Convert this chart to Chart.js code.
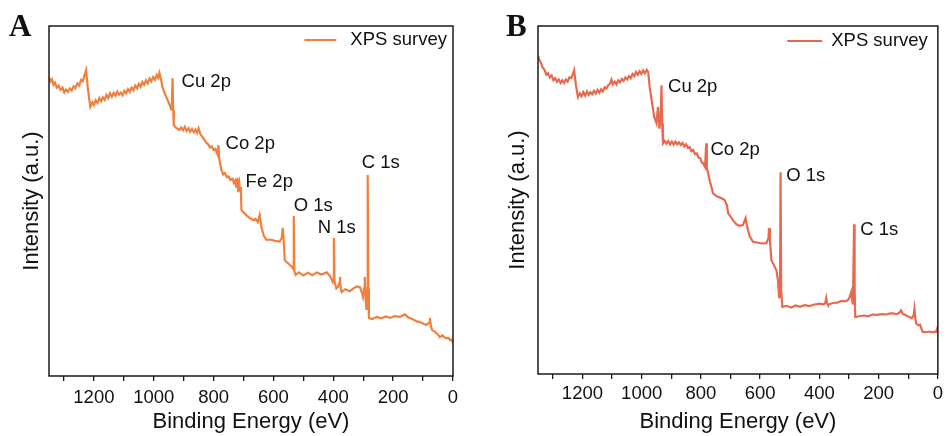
<!DOCTYPE html>
<html>
<head>
<meta charset="utf-8">
<script src="https://cdn.jsdelivr.net/npm/chart.js@4.4.1/dist/chart.umd.min.js"></script>
<style>
  body { margin: 0; background: #fff; }
  .panel { position: absolute; top: 0; }
  .tag { position: absolute; top: 8px; font: bold 31px "Liberation Serif", "Times New Roman", serif; color: #111; }
</style>
</head>
<body>
<div class="panel" style="left:0"><canvas id="chartA" width="470" height="436"></canvas></div>
<div class="panel" style="left:477px"><canvas id="chartB" width="470" height="436"></canvas></div>
<div class="tag" style="left:9px">A</div>
<div class="tag" style="left:506px">B</div>
<script>
// binding energy (eV) and intensity (a.u., 0-100 of the plot height) for each survey
const energyA = [1350, 1345, 1340, 1335, 1330, 1324, 1318, 1312, 1305, 1299, 1293, 1287, 1280, 1274, 1268, 1262, 1255, 1249, 1243, 1237, 1232, 1226,
  1220, 1212, 1205, 1200, 1194, 1188, 1182, 1176, 1170, 1164, 1158, 1152, 1146, 1140, 1134, 1128, 1122, 1116, 1110, 1104,
  1098, 1092, 1086, 1080, 1074, 1068, 1062, 1056, 1050, 1044, 1038, 1032, 1026, 1020, 1014, 1008, 1002, 996, 990, 985, 981,
  975, 971, 962, 954, 947, 942, 939, 937, 935, 933, 925,
  914, 908, 902, 896, 890, 884, 878, 872, 866, 860, 855, 850, 845, 840, 835, 830, 824, 818, 812, 806, 800, 794, 790,
  786, 784, 781, 774, 768, 762, 756, 750, 744, 737, 732, 728, 724, 722, 720, 718, 714, 711, 709, 707,
  700, 690, 680, 669, 660, 652, 646, 640, 632, 623, 610, 595, 579, 572, 569, 566,
  562, 555, 545, 538, 534, 532, 530, 526, 515, 500, 485, 470, 455, 440, 422, 410, 402, 400, 398, 396,
  390, 385, 380, 378, 375, 372, 360, 345, 330, 320, 311, 305, 301, 297, 295, 292, 289, 287, 285, 283,
  281, 270, 255, 240, 225, 210, 195, 177, 161, 150, 135, 120, 111, 100, 90, 80, 77, 74, 70, 60,
  50, 44, 35, 25, 15, 10, 5, 0];
const intensityA = [85.4, 84.2, 84.8, 83.2, 83.8, 82.4, 83.0, 81.8, 82.4, 81.0, 81.8, 81.2, 82.2, 81.6, 82.8, 82.2, 83.6, 83.0, 84.6, 84.2, 85.8, 87.4,
  82.0, 76.9, 78.2, 77.4, 78.8, 78.0, 79.4, 78.5, 79.6, 78.9, 80.3, 79.4, 80.8, 79.8, 80.9, 80.1, 81.3, 80.4, 81.0, 80.2,
  81.5, 80.8, 82.0, 81.2, 82.4, 81.6, 83.0, 82.2, 83.5, 82.6, 84.0, 83.2, 84.5, 83.6, 85.0, 84.2, 85.4, 84.6, 86.0, 85.2, 86.6,
  84.5, 82.6, 80.5, 78.9, 77.5, 76.2, 80.0, 85.1, 76.0, 71.7, 70.9,
  70.3, 71.0, 70.2, 71.2, 70.0, 70.8, 69.8, 70.6, 69.6, 70.4, 69.5, 70.8, 69.3, 68.6, 68.0, 67.4, 66.6, 66.2, 65.3, 65.6, 64.6, 64.9, 64.0,
  63.2, 66.0, 62.0, 58.9, 57.6, 58.0, 56.8, 57.0, 56.0, 56.4, 55.2, 55.8, 54.0, 55.5, 56.6, 52.5, 55.0, 53.0, 54.0, 47.4,
  46.8, 45.9, 45.2, 44.6, 44.9, 44.0, 46.0, 42.5, 40.0, 38.9, 39.0, 38.6, 38.4, 39.5, 42.3, 39.0,
  33.0, 32.5, 31.7, 31.2, 30.5, 45.7, 30.0, 28.9, 29.6, 28.7, 29.5, 28.8, 29.6, 29.0, 29.6, 28.5, 26.9, 27.5, 39.4, 27.0,
  25.0, 25.4, 26.5, 28.3, 25.0, 24.0, 24.8, 24.2, 25.2, 25.6, 25.4, 24.0, 22.6, 25.0, 28.3, 22.0, 18.9, 25.0, 57.4, 25.0,
  16.6, 16.3, 16.9, 16.5, 17.0, 16.6, 17.1, 16.9, 17.6, 16.8, 16.2, 15.6, 15.4, 15.0, 14.6, 15.2, 16.6, 14.4, 13.1, 12.6,
  11.8, 11.1, 11.6, 10.8, 10.9, 10.3, 10.4, 9.4];

const energyB = [1350, 1345, 1340, 1334, 1328, 1322, 1316, 1310, 1304, 1298, 1292, 1286, 1280, 1274, 1268, 1262, 1256, 1250, 1244, 1238, 1233, 1228,
  1222, 1215, 1209, 1203, 1197, 1191, 1185, 1179, 1173, 1167, 1161, 1155, 1149, 1143, 1137, 1131, 1125, 1119, 1113, 1107, 1102,
  1097, 1091, 1085, 1079, 1073, 1067, 1061, 1055, 1049, 1043, 1037, 1031, 1025, 1019, 1013, 1007, 1001, 995, 989, 983, 978,
  973, 965, 958, 950, 945, 940, 936, 933, 931,
  928, 922, 916, 910, 904, 898, 892, 886, 880, 874, 868, 862, 856, 850, 844, 838, 832, 826, 820, 814, 808, 802, 797, 793,
  786, 782, 780, 778, 770, 759, 745, 730, 720, 712, 708, 703, 690, 680, 670, 658, 649, 643, 635, 624,
  610, 595, 579, 572, 570, 567, 562, 555, 545, 540, 536, 533, 531, 529, 525, 510, 495, 480, 465, 450,
  433, 420, 400, 385, 380, 377, 374, 371, 355, 340, 325, 315, 304, 298, 292, 289, 287, 285, 283, 281,
  279, 265, 250, 235, 220, 205, 190, 175, 160, 152, 140, 130, 124, 118, 110, 103, 96, 88, 82, 79,
  76, 73, 66, 60, 56, 51, 40, 30, 20, 10, 6, 2, 0];
const intensityB = [91.5, 90.2, 89.4, 88.0, 87.4, 86.0, 86.4, 85.2, 85.8, 84.4, 85.0, 84.0, 84.6, 83.6, 84.4, 83.6, 84.6, 84.0, 85.2, 85.0, 86.0, 87.3,
  83.0, 79.6, 80.6, 79.8, 81.0, 80.0, 81.2, 80.2, 81.0, 80.4, 81.4, 80.6, 81.6, 80.8, 81.8, 81.2, 82.4, 82.0, 83.0, 83.4, 84.6,
  83.2, 84.0, 83.2, 84.4, 83.8, 84.8, 84.2, 85.2, 84.6, 85.6, 85.0, 86.2, 85.6, 86.8, 86.0, 87.0, 86.2, 87.2, 86.4, 87.4, 86.8,
  82.5, 78.0, 74.0, 72.1, 76.7, 70.5, 74.0, 83.0, 72.0,
  66.3, 67.0, 66.2, 67.0, 66.0, 66.8, 65.9, 66.8, 66.0, 66.6, 65.8, 66.4, 65.4, 66.0, 65.0, 65.2, 64.0, 64.4, 63.2, 63.4, 62.2, 62.0, 60.8, 60.6,
  59.5, 66.3, 59.0, 58.6, 55.5, 51.9, 51.0, 50.5, 50.0, 48.5, 46.2, 45.6, 44.0, 43.0, 42.6, 42.8, 44.8, 42.0, 39.5, 38.0,
  37.8, 37.5, 37.6, 39.0, 41.9, 38.5, 32.7, 31.5, 29.8, 27.0, 22.1, 25.0, 58.0, 24.0, 19.3, 19.6, 19.1, 19.7, 19.3, 19.8,
  19.5, 19.9, 20.2, 20.0, 20.5, 21.8, 20.3, 19.9, 20.4, 20.5, 21.0, 20.9, 21.2, 22.0, 23.6, 21.0, 20.0, 30.0, 43.0, 25.0,
  16.4, 16.6, 16.8, 16.6, 17.1, 17.0, 17.2, 17.1, 17.4, 17.4, 17.2, 17.6, 18.3, 17.2, 17.0, 16.6, 16.4, 16.0, 16.8, 18.8,
  16.0, 14.5, 14.0, 14.2, 13.1, 12.1, 12.0, 12.2, 12.0, 12.1, 12.1, 13.1, 12.8];

// peak labels: text, energy of the text's left edge, intensity of its middle
const peaksA = ['Cu 2p', 'Co 2p', 'Fe 2p', 'O 1s', 'N 1s', 'C 1s'];
const peakXA = [907, 760, 693, 532, 452, 305];
const peakYA = [84.0, 66.3, 55.4, 48.6, 42.3, 60.9];
const peaksB = ['Cu 2p', 'Co 2p', 'O 1s', 'C 1s'];
const peakXB = [911, 768, 512, 262];
const peakYB = [82.5, 64.3, 56.8, 41.3];

const xTicks = [0, 200, 400, 600, 800, 1000, 1200];

const FONT = '"Liberation Sans", Arial, Helvetica, sans-serif';

const framePlugin = {
  id: 'frame',
  afterDraw(chart) {
    const a = chart.chartArea, ctx = chart.ctx;
    ctx.save();
    ctx.strokeStyle = '#1a1a1a';
    ctx.lineWidth = 1.5;
    ctx.strokeRect(a.left, a.top, a.right - a.left, a.bottom - a.top);
    ctx.restore();
  }
};

// peak names + the in-plot legend
const peakPlugin = {
  id: 'peaks',
  afterDatasetsDraw(chart, args, opts) {
    const ctx = chart.ctx, xs = chart.scales.x, ys = chart.scales.y, a = chart.chartArea;
    ctx.save();
    ctx.font = '18.5px ' + FONT;
    ctx.fillStyle = '#111';
    ctx.textAlign = 'left';
    ctx.textBaseline = 'middle';
    opts.names.forEach((n, i) => {
      ctx.fillText(n, xs.getPixelForValue(opts.xs[i]), ys.getPixelForValue(opts.ys[i]));
    });

    const ds = chart.data.datasets[0];
    const lg = opts.legend;
    const w = ctx.measureText(ds.label).width;
    const tx = a.right - lg.right - w;
    const ty = a.top + lg.top;
    ctx.fillText(ds.label, tx, ty);
    ctx.strokeStyle = ds.borderColor;
    ctx.lineWidth = 2;
    ctx.beginPath();
    ctx.moveTo(tx - lg.gap - lg.len, ty);
    ctx.lineTo(tx - lg.gap, ty);
    ctx.stroke();
    ctx.restore();
  }
};

function makeChart(id, energy, intensity, color, names, px, py, pad, yWidth, xHeight, yTitlePad, tickPad, legend) {
  const pts = energy.map((e, i) => ({ x: e, y: intensity[i] }));
  return new Chart(document.getElementById(id), {
    type: 'line',
    data: {
      datasets: [{
        label: 'XPS survey',
        data: pts,
        borderColor: color,
        backgroundColor: color,
        borderWidth: 2.2,
        pointRadius: 0,
        tension: 0
      }]
    },
    options: {
      responsive: false,
      devicePixelRatio: 1,
      animation: false,
      layout: { padding: pad },
      plugins: {
        legend: { display: false },
        tooltip: { enabled: false },
        peaks: { names: names, xs: px, ys: py, legend: legend }
      },
      scales: {
        x: {
          type: 'linear',
          reverse: true,
          min: 0,
          max: 1350,
          afterFit(s) { s.height = xHeight; },
          border: { display: false },
          grid: { drawOnChartArea: false, drawTicks: true, tickLength: 5, color: '#1a1a1a', lineWidth: 1.3 },
          ticks: {
            stepSize: 100,
            includeBounds: false,
            maxRotation: 0,
            autoSkip: false,
            padding: tickPad,
            color: '#111',
            font: { family: FONT, size: 18.5 },
            callback: v => xTicks.includes(v) ? String(v) : ''
          },
          title: {
            display: true,
            text: 'Binding Energy (eV)',
            color: '#111',
            font: { family: FONT, size: 22 },
            padding: { top: 0, bottom: 1 }
          }
        },
        y: {
          min: 0,
          max: 100,
          afterFit(s) { s.width = yWidth; },
          border: { display: false },
          grid: { display: false },
          ticks: { display: false },
          title: {
            display: true,
            text: 'Intensity (a.u.)',
            color: '#111',
            font: { family: FONT, size: 22 },
            padding: { top: yTitlePad, bottom: 0 }
          }
        }
      }
    },
    plugins: [framePlugin, peakPlugin]
  });
}

makeChart('chartA', energyA, intensityA, '#F0803E', peaksA, peakXA, peakYA,
  { top: 26, right: 17, left: 0, bottom: 0 }, 49, 60, 19, 6,
  { right: 6, top: 14, gap: 14, len: 32 });
makeChart('chartB', energyB, intensityB, '#E8694F', peaksB, peakXB, peakYB,
  { top: 26, right: 8, left: 0, bottom: 0 }, 61, 62, 28, 4,
  { right: 10, top: 15, gap: 9, len: 35 });
</script>
</body>
</html>
